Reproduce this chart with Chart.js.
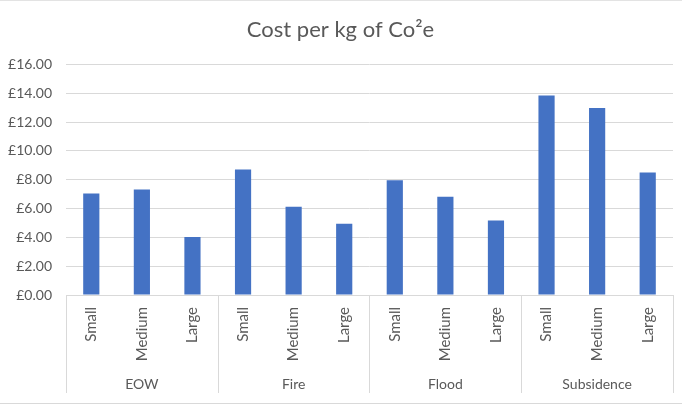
<!DOCTYPE html>
<html>
<head>
<meta charset="utf-8">
<script src="https://cdn.jsdelivr.net/npm/chart.js@4"></script>
<style>
    html, body { margin: 0; padding: 0; background: #fff; }
    #wrap { position: relative; width: 682px; height: 406px; }
    #frame {
        position: absolute; left: 0; top: 0; width: 682px; height: 402px;
        border-top: 1px solid #e3e3e3; border-bottom: 1px solid #d9d9d9;
        pointer-events: none;
    }
</style>
</head>
<body>
<div id="wrap">
    <canvas id="costChart" width="682" height="406"></canvas>
    <div id="frame"></div>
</div>
<script>
// Chart data
const groups = ['EOW', 'Fire', 'Flood', 'Subsidence'];
const sizes = ['Small', 'Medium', 'Large'];
const eowCost = [7.05, 7.32, 4.03];
const fireCost = [8.70, 6.13, 4.94];
const floodCost = [7.97, 6.82, 5.17];
const subsidenceCost = [13.84, 12.98, 8.50];
const yTicks = [0, 2, 4, 6, 8, 10, 12, 14, 16];

const textColor = '#595959';
const lineColor = '#d9d9d9';
const fontFamily = 'Lato, "Open Sans", sans-serif';

// Vertical separators between the category groups, placed from the x scale
const groupDividers = {
    id: 'groupDividers',
    afterDraw(chart) {
        const x = chart.scales.x;
        const x2 = chart.scales.x2;
        const n = x.getLabels().length;
        const half = (x.getPixelForTick(1) - x.getPixelForTick(0)) / 2;
        const ctx = chart.ctx;
        ctx.save();
        ctx.strokeStyle = lineColor;
        ctx.lineWidth = 1;
        for (let i = 0; i <= n; i += sizes.length) {
            const px = i < n ? x.getPixelForTick(i) - half : x.getPixelForTick(n - 1) + half;
            const sx = Math.round(px) + 0.5;
            ctx.beginPath();
            ctx.moveTo(sx, x.top);
            ctx.lineTo(sx, x2.bottom);
            ctx.stroke();
        }
        ctx.restore();
    }
};

new Chart(document.getElementById('costChart'), {
    type: 'bar',
    data: {
        labels: groups.flatMap(() => sizes),
        datasets: [{
            label: 'Cost per kg',
            data: [...eowCost, ...fireCost, ...floodCost, ...subsidenceCost],
            backgroundColor: '#4472C4',
            barPercentage: 0.32,
            categoryPercentage: 1
        }]
    },
    options: {
        responsive: false,
        animation: false,
        layout: {
            padding: { left: 8, right: 9, top: 0, bottom: 13 }
        },
        plugins: {
            legend: { display: false },
            tooltip: { enabled: false },
            title: {
                display: true,
                text: 'Cost per kg of Co\u00B2e',
                color: textColor,
                font: { family: fontFamily, size: 22, weight: 'normal' },
                padding: { top: 17, bottom: 21 }
            }
        },
        scales: {
            y: {
                min: 0,
                max: 16,
                afterBuildTicks: axis => {
                    axis.ticks = yTicks.map(v => ({ value: v }));
                },
                afterFit: axis => { axis.width = 58; },
                ticks: {
                    color: textColor,
                    font: { family: fontFamily, size: 14 },
                    padding: 14,
                    callback: v => '£' + Number(v).toFixed(2)
                },
                grid: { color: lineColor, drawTicks: false },
                border: { display: false }
            },
            x: {
                afterFit: axis => {
                    axis.height = 70;
                    axis.paddingLeft = 0;
                    axis.paddingRight = 0;
                },
                ticks: {
                    color: textColor,
                    font: { family: fontFamily, size: 15 },
                    minRotation: 90,
                    maxRotation: 90,
                    autoSkip: false,
                    padding: 12
                },
                grid: { drawOnChartArea: false, drawTicks: false },
                border: { color: lineColor }
            },
            x2: {
                type: 'category',
                labels: groups,
                position: 'bottom',
                offset: true,
                afterFit: axis => {
                    axis.height = 28;
                    axis.paddingLeft = 0;
                    axis.paddingRight = 0;
                },
                ticks: {
                    color: textColor,
                    font: { family: fontFamily, size: 14 },
                    maxRotation: 0,
                    autoSkip: false,
                    padding: 11
                },
                grid: { display: false, drawTicks: false },
                border: { display: false }
            }
        }
    },
    plugins: [groupDividers]
});
</script>
</body>
</html>
